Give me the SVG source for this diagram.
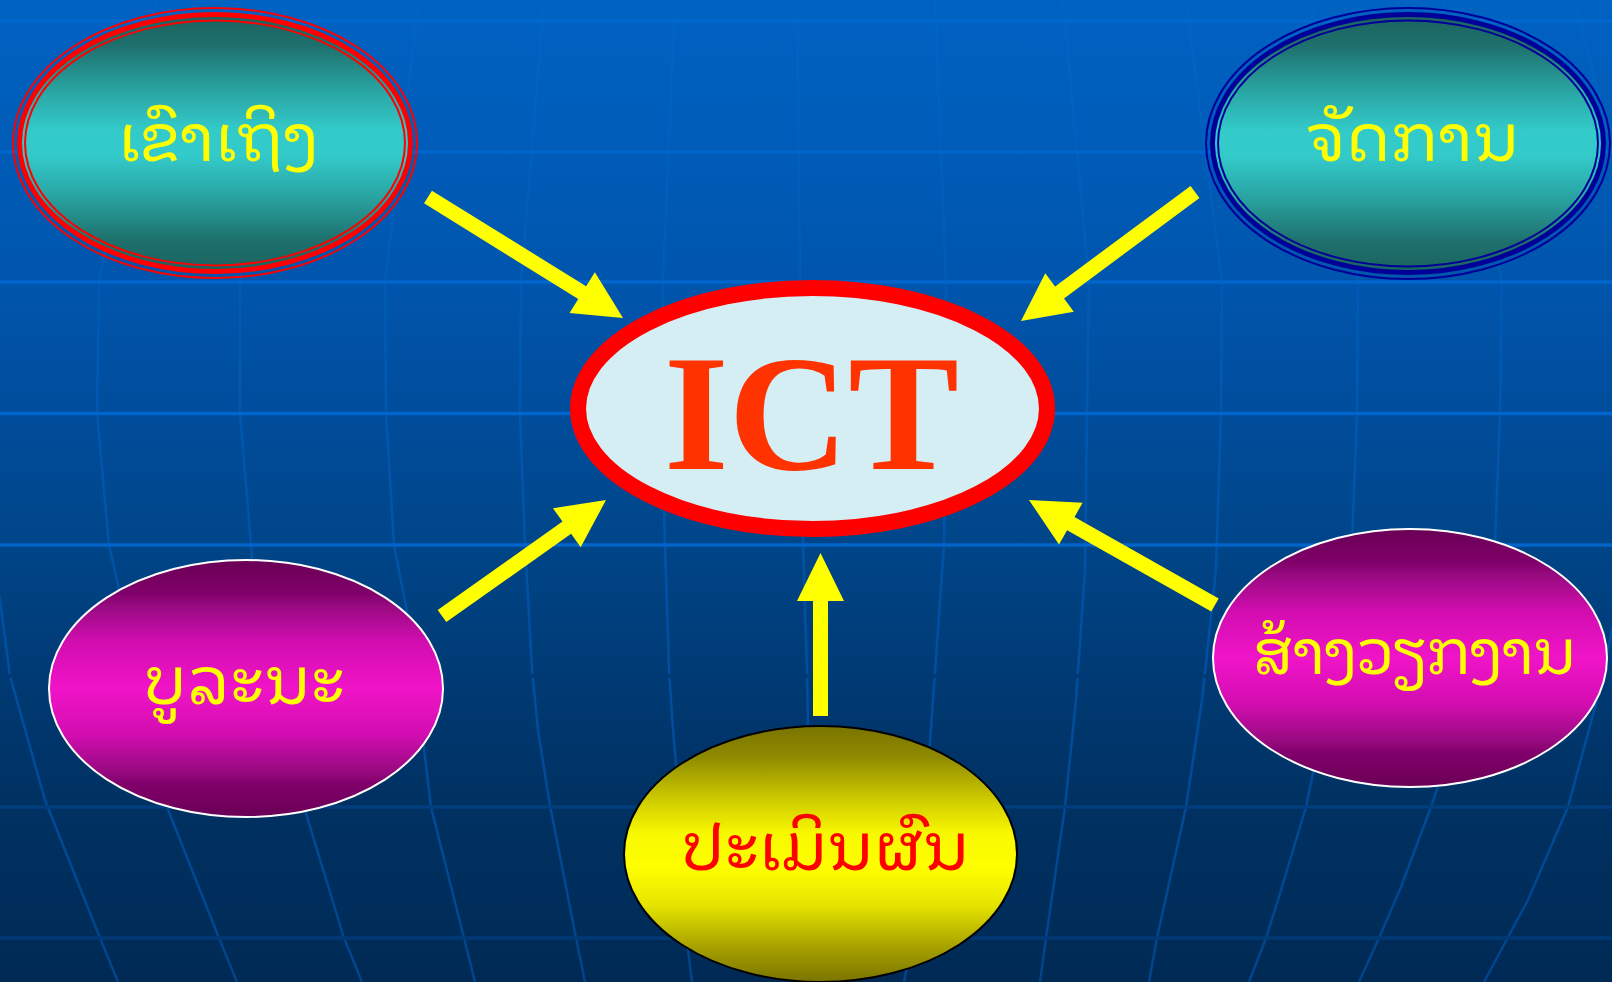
<svg xmlns="http://www.w3.org/2000/svg" width="1612" height="982" viewBox="0 0 1612 982">
<defs>
<linearGradient id="bg" gradientUnits="userSpaceOnUse" x1="0" y1="0" x2="0" y2="982">
<stop offset="0" stop-color="#0062C2"/>
<stop offset="0.15" stop-color="#005CB8"/>
<stop offset="0.29" stop-color="#0055AC"/>
<stop offset="0.42" stop-color="#004D9C"/>
<stop offset="0.555" stop-color="#004588"/>
<stop offset="0.69" stop-color="#003A74"/>
<stop offset="0.82" stop-color="#003162"/>
<stop offset="1" stop-color="#002A55"/>
</linearGradient>
<linearGradient id="mer" gradientUnits="userSpaceOnUse" x1="0" y1="0" x2="0" y2="982">
<stop offset="0" stop-color="#0064C8"/>
<stop offset="0.45" stop-color="#0057AE"/>
<stop offset="1" stop-color="#00448C"/>
</linearGradient>
<linearGradient id="teal" x1="0" y1="0" x2="0" y2="1">
<stop offset="0" stop-color="#1A6360"/>
<stop offset="0.12" stop-color="#1E706C"/>
<stop offset="0.3" stop-color="#29A6A4"/>
<stop offset="0.45" stop-color="#33CACA"/>
<stop offset="0.55" stop-color="#33CACA"/>
<stop offset="0.7" stop-color="#29A6A4"/>
<stop offset="0.88" stop-color="#1E706C"/>
<stop offset="1" stop-color="#1A6360"/>
</linearGradient>
<linearGradient id="mag" x1="0" y1="0" x2="0" y2="1">
<stop offset="0" stop-color="#6A0055"/>
<stop offset="0.13" stop-color="#80006A"/>
<stop offset="0.18" stop-color="#980A80"/>
<stop offset="0.32" stop-color="#D20DB0"/>
<stop offset="0.5" stop-color="#F014C8"/>
<stop offset="0.68" stop-color="#D20DB0"/>
<stop offset="0.82" stop-color="#980A80"/>
<stop offset="0.87" stop-color="#80006A"/>
<stop offset="1" stop-color="#6A0055"/>
</linearGradient>
<linearGradient id="yel" x1="0" y1="0" x2="0" y2="1">
<stop offset="0" stop-color="#7A7400"/>
<stop offset="0.12" stop-color="#8E8A00"/>
<stop offset="0.28" stop-color="#CCC800"/>
<stop offset="0.42" stop-color="#F8F800"/>
<stop offset="0.55" stop-color="#FFFF00"/>
<stop offset="0.7" stop-color="#E6E400"/>
<stop offset="0.86" stop-color="#A8A200"/>
<stop offset="1" stop-color="#7A7400"/>
</linearGradient>
<style>
.mer{fill:none;stroke:url(#mer);stroke-width:2.5}
.hl{stroke-width:3.6}
.lao{font-family:"Noto Sans Lao Looped","DejaVu Sans",sans-serif;font-size:66px;text-anchor:middle}
.yt{fill:#FFFF00}
.arrow{fill:#FFFF00}
</style>
</defs>

<g id="background">
<rect x="0" y="0" width="1612" height="982" fill="url(#bg)"/>
<path class="mer" d="M -14 545 L 0 600 L 10 676 L 45 800 L 98 933 L 118 982"/>
<path class="mer" d="M 156 0 L 99 282 L 97 413 L 109 545 L 117 580 L 135 676 L 167 807 L 219 938 L 237 982"/>
<path class="mer" d="M 286 0 L 240 282 L 240 413 L 251 545 L 253 570 L 272 676 L 304 807 L 344 938 L 362 982"/>
<path class="mer" d="M 419 0 L 385 282 L 386 413 L 394 545 L 410 627 L 423 740 L 431 807 L 464 938 L 475 982"/>
<path class="mer" d="M 544 0 L 521 282 L 520 413 L 525 545 L 532 670 L 538 730 L 549 800 L 576 938 L 585 982"/>
<path class="mer" d="M 675 0 L 663 282 L 663 470 L 665 545 L 669 670 L 673 730 L 680 807 L 688 950 L 692 982"/>
<path class="mer" d="M 797 0 L 800 282 L 803 545 L 807 670 L 808 730 L 812 982"/>
<path class="mer" d="M 935 0 L 946 282 L 944 545 L 933 700 L 930 743 L 907 967 L 904 982"/>
<path class="mer" d="M 1063 0 L 1089 282 L 1087 413 L 1085 570 L 1076 700 L 1065 807 L 1046 938 L 1040 982"/>
<path class="mer" d="M 1186 0 L 1222 282 L 1221 413 L 1216 570 L 1202 700 L 1186 807 L 1157 938 L 1149 982"/>
<path class="mer" d="M 1311 0 L 1358 282 L 1357 413 L 1351 570 L 1330 690 L 1306 807 L 1278 900 L 1266 938 L 1249 982"/>
<path class="mer" d="M 1443 0 L 1502 282 L 1500 413 L 1494 570 L 1470 690 L 1431 807 L 1401 887 L 1379 938 L 1359 982"/>
<path class="mer" d="M 1575 0 L 1645 282 L 1640 413 L 1625 570 L 1597 700 L 1568 807 L 1528 900 L 1484 982"/>
<line class="hl" x1="0" y1="21" x2="1612" y2="21" stroke="#0068CE"/>
<line class="hl" x1="0" y1="152" x2="1612" y2="152" stroke="#0066CC"/>
<line class="hl" x1="0" y1="282" x2="1612" y2="282" stroke="#0066CC"/>
<line class="hl" x1="0" y1="413.5" x2="1612" y2="413.5" stroke="#0066CC"/>
<line class="hl" x1="0" y1="545" x2="1612" y2="545" stroke="#0064C8"/>
<line class="hl" x1="0" y1="676" x2="1612" y2="676" stroke="url(#bg)"/>
<line class="hl" x1="0" y1="807" x2="1612" y2="807" stroke="#003E7E"/>
<line class="hl" x1="0" y1="938" x2="1612" y2="938" stroke="#003A76"/>
</g>

<g id="connectors">
<polygon class="arrow" points="431.95,190.63 586.15,286.33 594.85,272.31 623,318 569.55,313.09 578.25,299.07 424.05,203.37"/>
<polygon class="arrow" points="1190.53,185.98 1055.09,286.39 1045.27,273.13 1021,321 1073.85,311.69 1064.03,298.43 1199.47,198.02"/>
<polygon class="arrow" points="437.67,609.88 562.48,521.60 552.95,508.13 606,500 580.67,547.31 571.14,533.84 446.33,622.12"/>
<polygon class="arrow" points="813,716 813,601 797,601 820.5,553 844,601 828,601 828,716"/>
<polygon class="arrow" points="1218.69,598.47 1074.49,517.07 1082.60,502.70 1029,500 1059.00,544.50 1067.11,530.13 1211.31,611.53"/>
</g>

<g id="node-access">
<ellipse cx="215" cy="143" rx="195.5" ry="128.5" fill="url(#teal)"/>
<ellipse cx="215" cy="143" rx="202" ry="135" fill="none" stroke="#FF0000" stroke-width="2"/>
<ellipse cx="215" cy="143" rx="195.5" ry="128.5" fill="none" stroke="#FF0000" stroke-width="5"/>
<ellipse cx="215" cy="143" rx="190" ry="122.5" fill="none" stroke="#FF0000" stroke-width="2"/>
<text class="lao yt" x="219" y="161">ເຂົາເຖິງ</text>
</g>

<g id="node-manage">
<ellipse cx="1408" cy="143.5" rx="195.5" ry="129" fill="url(#teal)"/>
<ellipse cx="1408" cy="143.5" rx="202" ry="135.5" fill="none" stroke="#000099" stroke-width="2"/>
<ellipse cx="1408" cy="143.5" rx="195.5" ry="129" fill="none" stroke="#000099" stroke-width="5"/>
<ellipse cx="1408" cy="143.5" rx="190" ry="123" fill="none" stroke="#000099" stroke-width="2"/>
<text class="lao yt" x="1413" y="161" font-size="65">ຈັດການ</text>
</g>

<g id="node-ict">
<ellipse cx="812.5" cy="408.5" rx="234.5" ry="120.5" fill="#D4EEF4" stroke="#FF0000" stroke-width="16"/>
<text x="811.5" y="469" font-family="'Liberation Serif','Times New Roman',serif" font-weight="bold" font-size="166" fill="#FF3300" text-anchor="middle">ICT</text>
</g>

<g id="node-maintain">
<ellipse cx="246" cy="688.5" rx="197" ry="128.5" fill="url(#mag)" stroke="#FFFFFF" stroke-width="2"/>
<text class="lao yt" x="244" y="704">ບູລະນະ</text>
</g>

<g id="node-evaluate">
<ellipse cx="820.5" cy="854" rx="196.5" ry="128" fill="url(#yel)" stroke="#000000" stroke-width="2"/>
<text class="lao" x="825" y="870" fill="#FF0000">ປະເມິນຜົນ</text>
</g>

<g id="node-create-jobs">
<ellipse cx="1410" cy="658" rx="197" ry="129" fill="url(#mag)" stroke="#FFFFFF" stroke-width="2"/>
<text class="lao yt" x="1414" y="674" style="font-size:62px;letter-spacing:-1.5px">ສ້າງວຽກງານ</text>
</g>
</svg>
